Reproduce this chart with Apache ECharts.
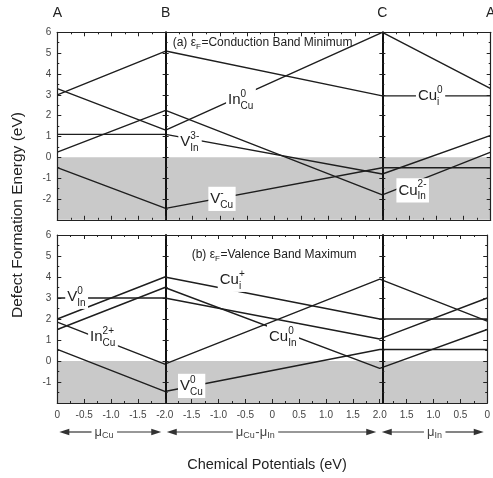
<!DOCTYPE html>
<html><head><meta charset="utf-8">
<script src="https://cdn.jsdelivr.net/npm/echarts@6/dist/echarts.min.js"></script>
<style>html,body{margin:0;padding:0;background:#fff}#c{width:493px;height:478px}</style>
</head><body><div id="c"></div>
<script>
// ---------- data ----------
// vertices of the chemical-potential path on a continuous axis: A, B, C, A
const pathX = [0, 2, 6, 8];
const pointNames = ['A', 'B', 'C', 'A'];
const xTickLabels = ['0','-0.5','-1.0','-1.5','-2.0','-1.5','-1.0','-0.5','0','0.5','1.0','1.5','2.0','1.5','1.0','0.5','0'];
// (a) Fermi level at conduction band minimum
const cuI0    = [3.0, 5.1, 2.95, 2.95];
const inCu0   = [3.3, 1.3, 6.0, 3.3];
const vIn3m   = [1.1, 1.1, -0.8, 1.05];
const cuIn2m  = [0.25, 2.25, -1.8, 0.25];
const vCuM    = [-0.5, -2.45, -0.5, -0.5];
// (b) Fermi level at valence band maximum
const cuIp    = [2.0, 4.0, 2.0, 2.0];
const vIn0    = [3.0, 3.0, 1.05, 3.0];
const inCu2p  = [1.85, -0.15, 3.9, 1.9];
const cuIn0   = [1.5, 3.5, -0.35, 1.5];
const vCu0    = [0.55, -1.45, 0.55, 0.55];

const segmentRanges = [[0, 2], [2, 6], [6, 8]];

// ---------- styling ----------
const FONT = '"Liberation Sans", Arial, sans-serif';
const LINE = '#1e1e1e';
const AXC = '#222';
const TICKC = '#444';
const GRAY = '#c9c9c9';
const W = 493, H = 478;
const GL = 57.3, GR = 2.3;
const unitPx = (W - GL - GR) / 8;

const chart = echarts.init(document.getElementById('c'), null, {width: W, height: H, renderer: 'canvas'});

function xAxes(gi, showLabel) {
  const base = {
    gridIndex: gi, type: 'value', min: 0, max: 8, interval: 0.5, z: 5,
    axisLine: {show: true, onZero: false, lineStyle: {color: AXC, width: 1.2}},
    axisTick: {show: true, inside: true, length: 4, lineStyle: {color: AXC, width: 1}},
    minorTick: {show: true, splitNumber: 2, length: 2, lineStyle: {color: AXC, width: 1}},
    splitLine: {show: false}, minorSplitLine: {show: false}
  };
  return [
    Object.assign({}, base, {position: 'bottom', axisLabel: {show: showLabel, margin: 7, color: TICKC, fontSize: 10, fontFamily: FONT,
      formatter: v => xTickLabels[Math.round(v / 0.5)]}}),
    Object.assign({}, base, {position: 'top', axisLabel: {show: false}})
  ];
}
function yAxes(gi, min) {
  const tick = {show: true, inside: true, length: 4, lineStyle: {color: AXC, width: 1}};
  const minor = {show: true, splitNumber: 2, length: 2, lineStyle: {color: AXC, width: 1}};
  const base = {
    gridIndex: gi, type: 'value', min: min, max: 6, interval: 1, z: 5,
    axisLine: {show: true, onZero: false, lineStyle: {color: AXC, width: 1.2}},
    axisTick: tick, minorTick: minor, splitLine: {show: false}, axisLabel: {show: false}
  };
  const arr = [
    Object.assign({}, base, {position: 'left', axisLabel: {show: true, showMinLabel: false, margin: 6, color: TICKC, fontSize: 10, fontFamily: FONT}}),
    Object.assign({}, base, {position: 'right'})
  ];
  [pathX[1], pathX[2]].forEach(px => {
    const off = -px * unitPx;
    arr.push(Object.assign({}, base, {position: 'left', offset: off,
      axisLine: {show: true, onZero: false, lineStyle: {color: '#111', width: 2}},
      axisTick: Object.assign({}, tick, {length: 3}), minorTick: Object.assign({}, minor, {length: 2})}));
    arr.push(Object.assign({}, base, {position: 'left', offset: off,
      axisLine: {show: false},
      axisTick: Object.assign({}, tick, {inside: false, length: 3}), minorTick: {show: false}}));
  });
  return arr;
}

function lineSeries(arr, xi, yi, extra) {
  return Object.assign({
    type: 'line', xAxisIndex: xi, yAxisIndex: yi, symbol: 'none', silent: true, z: 3,
    data: pathX.map((x, i) => [x, arr[i]]),
    lineStyle: {color: LINE, width: 1.4}
  }, extra || {});
}

const panelA = [cuI0, inCu0, vIn3m, cuIn2m, vCuM];
const panelB = [cuIp, vIn0, inCu2p, cuIn0, vCu0];
const series = [];
panelA.forEach((a, i) => series.push(lineSeries(a, 0, 0, i === 0 ? {
  markArea: {silent: true, itemStyle: {color: GRAY}, data: [[{yAxis: -3}, {yAxis: 0}]]}} : null)));
panelB.forEach((a, i) => series.push(lineSeries(a, 2, 6, i === 0 ? {
  markArea: {silent: true, itemStyle: {color: GRAY}, data: [[{yAxis: -2}, {yAxis: 0}]]}} : null)));

chart.setOption({
  animation: false,
  backgroundColor: '#fff',
  grid: [
    {left: GL, right: GR, top: 32.3, height: 187.5},
    {left: GL, right: GR, top: 235, height: 168}
  ],
  xAxis: [].concat(xAxes(0, false), xAxes(1, true)),
  yAxis: [].concat(yAxes(0, -3), yAxes(1, -2)),
  series: series
});

// ---------- annotations ----------
const ZL = 60;
const mctx = document.createElement('canvas').getContext('2d');
function tw(t, fs) { mctx.font = fs + 'px ' + FONT; return mctx.measureText(t).width; }

function buildLabel(px, py, parts, o) {
  const texts = [];
  let x = 0;
  parts.forEach(p => {
    if (typeof p === 'string') { texts.push({x: x, y: 0, t: p, fs: o.fs}); x += tw(p, o.fs); }
    else {
      let w = 0;
      if (p.sup) { texts.push({x: x, y: -o.supDy, t: p.sup, fs: o.sfs}); w = Math.max(w, tw(p.sup, o.sfs)); }
      if (p.sub) { texts.push({x: x, y: o.subDy, t: p.sub, fs: o.sfs}); w = Math.max(w, tw(p.sub, o.sfs)); }
      x += w + 0.5;
    }
  });
  const Wt = x;
  const gx = o.anchor === 'left' ? px : px - Wt / 2;
  const els = [];
  if (o.bg) {
    const top = -Math.max(o.fs * 0.62, o.supDy + o.sfs * 0.62);
    const bot = Math.max(o.fs * 0.6, o.subDy + o.sfs * 0.6);
    els.push({type: 'rect', z: ZL, shape: {x: gx - 2, y: py + top, width: Wt + 4, height: bot - top}, style: {fill: '#fff'}});
  }
  texts.forEach(t => els.push({type: 'text', z: ZL + 1, x: gx + t.x, y: py + t.y,
    style: {text: t.t, fontSize: t.fs, fontFamily: FONT, fill: o.color || '#222', align: 'left', verticalAlign: 'middle'}}));
  return {els: els, w: Wt};
}

const seriesLabels = [
  {g: 0, at: [3.39, 2.74], parts: ['In', {sup: '0', sub: 'Cu'}]},
  {g: 0, at: [2.45, 0.72], parts: ['V', {sup: '3-', sub: 'In'}]},
  {g: 0, at: [3.04, -2.0], parts: ['V', {sup: '-', sub: 'Cu'}]},
  {g: 0, at: [6.89, 2.93], parts: ['Cu', {sup: '0', sub: 'i'}]},
  {g: 0, at: [6.56, -1.59], parts: ['Cu', {sup: '2-', sub: 'In'}]},
  {g: 1, at: [0.36, 3.05], parts: ['V', {sup: '0', sub: 'In'}]},
  {g: 1, at: [0.85, 1.14], parts: ['In', {sup: '2+', sub: 'Cu'}]},
  {g: 1, at: [3.26, 3.86], parts: ['Cu', {sup: '+', sub: 'i'}]},
  {g: 1, at: [4.2, 1.14], parts: ['Cu', {sup: '0', sub: 'In'}]},
  {g: 1, at: [2.5, -1.19], parts: ['V', {sup: '0', sub: 'Cu'}]}
];
const panelTitles = [
  {g: 0, at: [2.13, 5.48], parts: ['(a) \u03b5', {sub: 'F'}, '=Conduction Band Minimum']},
  {g: 1, at: [2.5, 5.05], parts: ['(b) \u03b5', {sub: 'F'}, '=Valence Band Maximum']}
];
const arrowTexts = [
  {parts: ['\u03bc', {sub: 'Cu'}], dx: -6},
  {parts: ['\u03bc', {sub: 'Cu'}, '-\u03bc', {sub: 'In'}], dx: -16},
  {parts: ['\u03bc', {sub: 'In'}], dx: 2}
];

function toPx(g, pt) {
  return chart.convertToPixel(g === 0 ? {xAxisIndex: 0, yAxisIndex: 0} : {xAxisIndex: 2, yAxisIndex: 6}, pt);
}

let graphics = [];
seriesLabels.forEach(l => {
  const p = toPx(l.g, l.at);
  graphics = graphics.concat(buildLabel(p[0], p[1], l.parts, {fs: 15, sfs: 10, supDy: 6, subDy: 6, bg: true}).els);
});
panelTitles.forEach(l => {
  const p = toPx(l.g, l.at);
  graphics = graphics.concat(buildLabel(p[0], p[1], l.parts, {fs: 12, sfs: 8, supDy: 5, subDy: 4, bg: false, anchor: 'left'}).els);
});
// point letters
pathX.forEach((x, i) => {
  const p = toPx(0, [x, 6]);
  graphics.push({type: 'text', x: p[0], y: 13, z: ZL,
    style: {text: pointNames[i], fontSize: 14, fontFamily: FONT, fill: '#222', align: 'center', verticalAlign: 'middle'}});
});
// arrows below axis
const arrowY = 432;
segmentRanges.forEach((r, i) => {
  const x0 = toPx(1, [r[0], 0])[0] + 2, x1 = toPx(1, [r[1], 0])[0] - 3.5;
  const cx = (x0 + x1) / 2 + arrowTexts[i].dx;
  const lab = buildLabel(cx, arrowY, arrowTexts[i].parts, {fs: 13, sfs: 9, supDy: 5, subDy: 4, bg: false, color: '#444'});
  graphics = graphics.concat(lab.els);
  const tl = cx - lab.w / 2 - 3, tr = cx + lab.w / 2 + 3;
  const hl = 10, hh = 3.3;
  const st = {stroke: '#333', lineWidth: 1.2};
  graphics.push({type: 'line', shape: {x1: x0 + hl - 1, y1: arrowY, x2: tl, y2: arrowY}, style: st, z: ZL});
  graphics.push({type: 'line', shape: {x1: tr, y1: arrowY, x2: x1 - hl + 1, y2: arrowY}, style: st, z: ZL});
  graphics.push({type: 'polygon', shape: {points: [[x0, arrowY], [x0 + hl, arrowY - hh], [x0 + hl, arrowY + hh]]}, style: {fill: '#333'}, z: ZL});
  graphics.push({type: 'polygon', shape: {points: [[x1, arrowY], [x1 - hl, arrowY - hh], [x1 - hl, arrowY + hh]]}, style: {fill: '#333'}, z: ZL});
});
// axis titles
graphics.push({type: 'text', x: 18, y: 215, rotation: Math.PI / 2, z: ZL,
  style: {text: 'Defect Formation Energy (eV)', fontSize: 15.5, fontFamily: FONT, fill: '#222', align: 'center', verticalAlign: 'middle'}});
graphics.push({type: 'text', x: 267, y: 465, z: ZL,
  style: {text: 'Chemical Potentials (eV)', fontSize: 14.5, fontFamily: FONT, fill: '#222', align: 'center', verticalAlign: 'middle'}});

chart.setOption({graphic: graphics});
</script>
</body></html>
